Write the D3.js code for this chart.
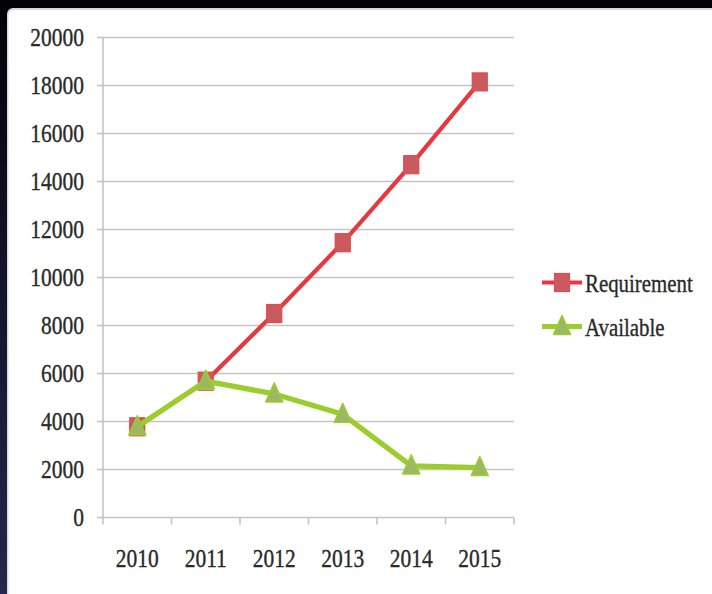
<!DOCTYPE html>
<html>
<head>
<meta charset="utf-8">
<script src="https://cdn.jsdelivr.net/npm/d3@7"></script>
<style>
  html, body { margin: 0; padding: 0; background: #05050d; }
  svg { display: block; }
  text { font-family: "Liberation Serif", "DejaVu Serif", serif; fill: #2a2a2a; stroke: #2a2a2a; stroke-width: 0.35; }
</style>
</head>
<body>
<svg id="chart" width="712" height="594"></svg>
<script>
// Chart data
const years = ["2010", "2011", "2012", "2013", "2014", "2015"];
const requirement = [3780, 5680, 8500, 11450, 14700, 18150];
const available = [3780, 5680, 5150, 4300, 2150, 2080];
const yTicks = [0, 2000, 4000, 6000, 8000, 10000, 12000, 14000, 16000, 18000, 20000];
const seriesNames = ["Requirement", "Available"];

const W = 712, H = 594;
const svg = d3.select("#chart");
const FS = 25, SX = 0.86; // font size and horizontal squeeze of the narrow serif lettering

// backdrop and white panel
const defs = svg.append("defs");
const bg = defs.append("linearGradient").attr("id", "bg").attr("x1", 0).attr("y1", 0).attr("x2", 0).attr("y2", 1);
bg.append("stop").attr("offset", "0%").attr("stop-color", "#020208");
bg.append("stop").attr("offset", "100%").attr("stop-color", "#24274f");
svg.append("rect").attr("width", W).attr("height", H).attr("fill", "url(#bg)");
svg.append("rect").attr("x", 7).attr("y", 8).attr("width", W).attr("height", H)
  .attr("rx", 6).attr("fill", "#d8d8d8");
svg.append("rect").attr("x", 8.5).attr("y", 10).attr("width", W).attr("height", H)
  .attr("rx", 5).attr("fill", "#ffffff");

const plot = { left: 103, right: 514, top: 37.5, bottom: 517.5 };

const x = d3.scaleBand().domain(years).range([plot.left, plot.right]).padding(0);
const y = d3.scaleLinear().domain([0, 20000]).range([plot.bottom, plot.top]);

const g = svg.append("g");

// horizontal gridlines with small outward ticks
g.selectAll("line.grid").data(yTicks).join("line")
  .attr("class", "grid")
  .attr("x1", plot.left - 6).attr("x2", plot.right)
  .attr("y1", d => y(d)).attr("y2", d => y(d))
  .attr("stroke", "#c4c4c4").attr("stroke-width", 1.6);

// y axis line
g.append("line")
  .attr("x1", plot.left).attr("x2", plot.left)
  .attr("y1", y(20000)).attr("y2", y(0))
  .attr("stroke", "#c4c4c4").attr("stroke-width", 1.6);

// x axis tick marks at category boundaries
const bounds = years.map(d => x(d)).concat([x(years[years.length - 1]) + x.bandwidth()]);
g.selectAll("line.xtick").data(bounds).join("line")
  .attr("class", "xtick")
  .attr("x1", d => d).attr("x2", d => d)
  .attr("y1", y(0)).attr("y2", y(0) + 7)
  .attr("stroke", "#c4c4c4").attr("stroke-width", 1.6);

// y tick labels
g.selectAll("g.ylab").data(yTicks).join("g")
  .attr("class", "ylab")
  .attr("transform", d => `translate(84,${y(d)}) scale(${SX},1)`)
  .append("text")
  .attr("text-anchor", "end").attr("dy", "0.34em")
  .attr("font-size", FS)
  .text(d => d);

// x category labels
g.selectAll("g.xlab").data(years).join("g")
  .attr("class", "xlab")
  .attr("transform", d => `translate(${x(d) + x.bandwidth() / 2},567) scale(${SX},1)`)
  .append("text")
  .attr("text-anchor", "middle")
  .attr("font-size", FS)
  .text(d => d);

const cx = d => x(d) + x.bandwidth() / 2;
const line = d3.line().x(d => cx(d.year)).y(d => y(d.value));

const reqData = years.map((yr, i) => ({ year: yr, value: requirement[i] }));
const avaData = years.map((yr, i) => ({ year: yr, value: available[i] }));

const redLine = "#e8383f", redFill = "#c95b5e";
const greenLine = "#9acd2d", greenFill = "#9cb865";

// marker shapes
const sqW = 15, sqH = 18;
const triW = 17, triH = 19;
function square(sel, px, py) {
  sel.append("rect")
    .attr("x", px - sqW / 2).attr("y", py - sqH / 2)
    .attr("width", sqW).attr("height", sqH)
    .attr("fill", redFill).attr("stroke", "#e8464c").attr("stroke-width", 1.2);
}
function triangle(sel, px, py) {
  sel.append("path")
    .attr("d", `M${px},${py - triH * 0.58}L${px + triW / 2},${py + triH * 0.42}L${px - triW / 2},${py + triH * 0.42}Z`)
    .attr("fill", greenFill).attr("stroke", greenLine).attr("stroke-width", 1.5)
    .attr("stroke-linejoin", "round");
}

// Requirement series
g.append("path").datum(reqData).attr("d", line)
  .attr("fill", "none").attr("stroke", redLine).attr("stroke-width", 4.2)
  .attr("stroke-linejoin", "round");
reqData.forEach(d => square(g, cx(d.year), y(d.value)));

// Available series
g.append("path").datum(avaData).attr("d", line)
  .attr("fill", "none").attr("stroke", greenLine).attr("stroke-width", 5.2)
  .attr("stroke-linejoin", "round");
avaData.forEach(d => triangle(g, cx(d.year), y(d.value)));

// legend
const legend = svg.append("g");
const legY = [282.5, 326.5];
seriesNames.forEach((name, i) => {
  const ly = legY[i];
  legend.append("line")
    .attr("x1", 542).attr("x2", 582).attr("y1", ly).attr("y2", ly)
    .attr("stroke", i === 0 ? redLine : greenLine).attr("stroke-width", i === 0 ? 4.2 : 5.2);
  if (i === 0) square(legend, 562, ly); else triangle(legend, 562, ly);
  legend.append("g")
    .attr("transform", `translate(585,${ly + 9.5}) scale(0.835,1)`)
    .append("text").attr("font-size", FS).text(name);
});
</script>
</body>
</html>
